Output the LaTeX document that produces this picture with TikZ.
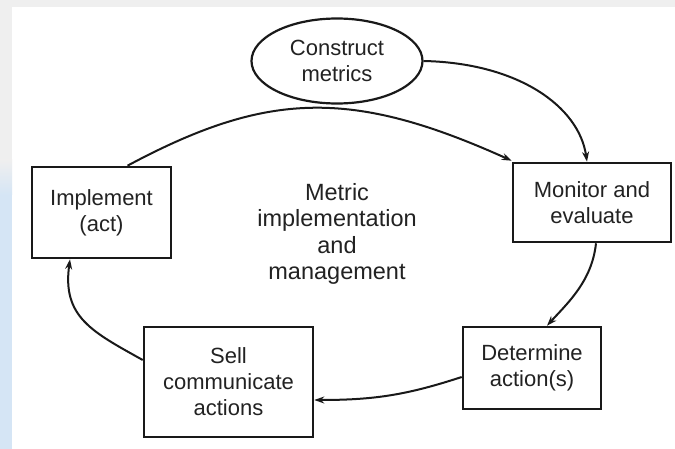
\documentclass[tikz,border=0pt]{standalone}
\usepackage{fontspec}
\setmainfont{Liberation Sans}
\usetikzlibrary{shapes.geometric,arrows.meta}
\definecolor{txt}{HTML}{222222}
\definecolor{stripblue}{HTML}{D5E5F5}
\definecolor{stripgray}{HTML}{EFEFEF}
\tikzset{
  box/.style={draw=black!90, line width=2.6pt, rectangle, inner sep=0pt, align=center,
    text=txt, font=\fontsize{22}{26}\selectfont},
  oval/.style={draw=black!90, line width=2.2pt, ellipse, inner sep=0pt, align=center,
    text=txt, font=\fontsize{22}{26}\selectfont},
  arr/.style={draw=black!90, line width=2pt, -{Stealth[length=10pt,width=7pt]}},
}
\begin{document}
\begin{tikzpicture}[x=1pt,y=-1pt]
\useasboundingbox (0,0) rectangle (675,449);
\fill[white] (0,0) rectangle (675,449);
\fill[stripgray] (0,0) rectangle (675,7);
\fill[stripgray] (0,7) rectangle (12,160);
\shade[top color=stripgray, bottom color=stripblue] (0,160) rectangle (12,195);
\fill[stripblue] (0,195) rectangle (12,449);

\node[oval, minimum width=171pt, minimum height=85pt] (cm) at (337,61) {Construct\\metrics};
\node[box, minimum width=158pt, minimum height=79pt] (mon) at (592,202.5) {Monitor and\\evaluate};
\node[box, minimum width=138pt, minimum height=82pt] (det) at (532,368) {Determine\\action(s)};
\node[box, minimum width=169pt, minimum height=110pt] (sell) at (228.5,382) {Sell\\communicate\\actions};
\node[box, minimum width=139pt, minimum height=91pt] (imp) at (101.5,212.5) {Implement\\(act)};
\node[align=center, text=txt, font=\fontsize{23.5}{26.5}\selectfont] (mid) at (337,234) {Metric\\implementation\\and\\management};

\draw[arr] (cm.east) .. controls +(95,2) and +(-8,-55) .. ([xshift=-5pt]mon.north);
\draw[arr] ([xshift=26pt]imp.north) .. controls +(140,-75) and +(-160,-72) .. ([yshift=1pt]mon.north west);
\draw[arr] ([xshift=4pt]mon.south) .. controls +(-4,38) and +(20,-22) .. ([xshift=15pt]det.north);
\draw[arr] ([yshift=-9pt]det.west) .. controls +(-55,18) and +(60,0) .. ([yshift=-18pt]sell.east);
\draw[arr] ([yshift=22pt]sell.west) .. controls +(-50,-28) and +(-8,58) .. ([xshift=-31.5pt]imp.south);
\end{tikzpicture}
\end{document}
